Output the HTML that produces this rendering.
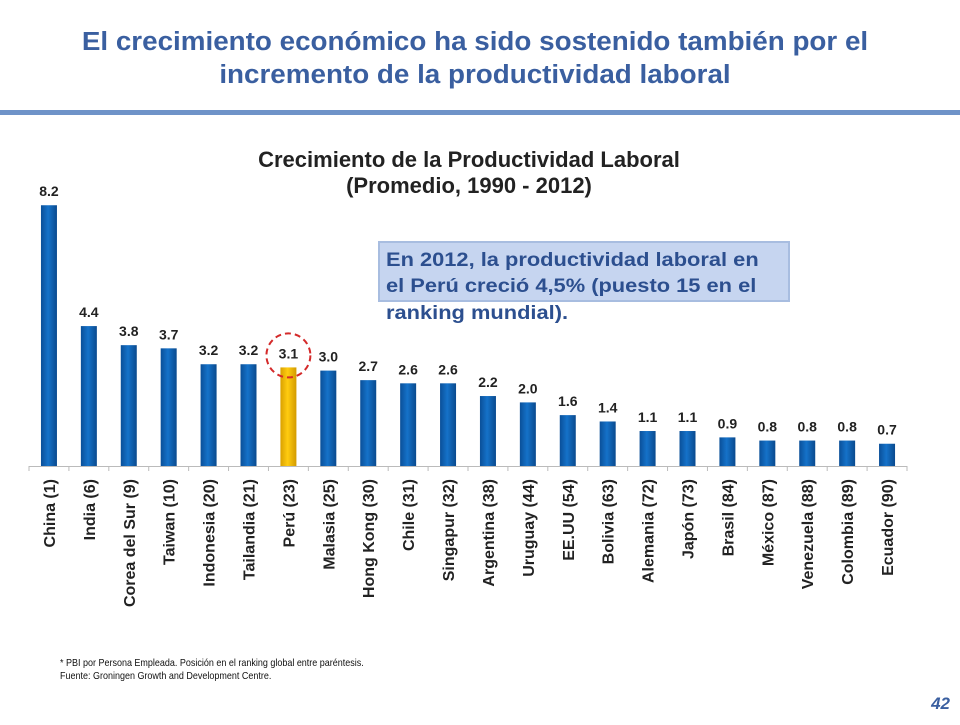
<!DOCTYPE html>
<html><head><meta charset="utf-8"><style>
body{margin:0;background:#fff;width:960px;height:720px;overflow:hidden;font-family:"Liberation Sans",sans-serif}
</style></head><body>
<svg id="chart" width="960" height="720" xmlns="http://www.w3.org/2000/svg" font-family="Liberation Sans, sans-serif">
<defs>
<linearGradient id="gb" x1="0" x2="1"><stop offset="0" stop-color="#0a4f98"/><stop offset="0.45" stop-color="#1572c9"/><stop offset="1" stop-color="#0a4a8e"/></linearGradient>
<linearGradient id="gy" x1="0" x2="1"><stop offset="0" stop-color="#d9a000"/><stop offset="0.45" stop-color="#ffcc10"/><stop offset="1" stop-color="#d29a00"/></linearGradient>
</defs>
<g fill="#3a5fa0" font-size="26" font-weight="bold" text-anchor="middle">
<text x="475" y="50" transform="translate(475 0) scale(1.07 1) translate(-475 0)">El crecimiento económico ha sido sostenido también por el</text>
<text x="475" y="83" transform="translate(475 0) scale(1.07 1) translate(-475 0)">incremento de la productividad laboral</text>
</g>
<rect x="0" y="110" width="960" height="5" fill="#6f93c8"/>
<g font-weight="bold" font-size="22" fill="#222" text-anchor="middle">
<text x="469" y="167">Crecimiento de la Productividad Laboral</text>
<text x="469" y="193">(Promedio, 1990 - 2012)</text>
</g>
<g>
<rect x="379" y="242" width="410" height="59" fill="#c6d5f0" stroke="#a8bde0" stroke-width="2"/>
<g fill="#2c4f8f" font-size="19" font-weight="bold" transform="translate(386 0) scale(1.15 1) translate(-386 0)">
<text x="386" y="266">En 2012, la productividad laboral en</text>
<text x="386" y="292">el Perú creció 4,5% (puesto 15 en el</text>
<text x="386" y="319">ranking mundial).</text>
</g>
</g>
<g id="plot"></g>
<g font-size="10" fill="#111">
<text x="60" y="666" transform="translate(60 0) scale(0.9 1) translate(-60 0)">* PBI por Persona Empleada. Posición en el ranking global entre paréntesis.</text>
<text x="60" y="679" transform="translate(60 0) scale(0.9 1) translate(-60 0)">Fuente: Groningen Growth and Development Centre.</text>
</g>
<text x="950" y="709" text-anchor="end" font-size="17" font-weight="bold" font-style="italic" fill="#3a5fa0">42</text>
</svg>
<script>
const categories=["China (1)","India (6)","Corea del Sur (9)","Taiwan (10)","Indonesia (20)","Tailandia (21)","Perú (23)","Malasia (25)","Hong Kong (30)","Chile (31)","Singapur (32)","Argentina (38)","Uruguay (44)","EE.UU (54)","Bolivia (63)","Alemania (72)","Japón (73)","Brasil (84)","México (87)","Venezuela (88)","Colombia (89)","Ecuador (90)"];
const values=[8.2,4.4,3.8,3.7,3.2,3.2,3.1,3.0,2.7,2.6,2.6,2.2,2.0,1.6,1.4,1.1,1.1,0.9,0.8,0.8,0.8,0.7];
const valueLabels=["8.2","4.4","3.8","3.7","3.2","3.2","3.1","3.0","2.7","2.6","2.6","2.2","2.0","1.6","1.4","1.1","1.1","0.9","0.8","0.8","0.8","0.7"];
const highlight="Perú (23)";
const NS="http://www.w3.org/2000/svg";
const x0=29,x1=907,base=466,k=31.8;
const step=(x1-x0)/categories.length;
const xc=i=>x0+step*(i+0.5);
const y=v=>base-v*k;
const g=document.getElementById('plot');
function mk(t,a){const e=document.createElementNS(NS,t);for(const n in a)e.setAttribute(n,a[n]);g.appendChild(e);return e;}
const ax=mk('line',{x1:x0,x2:x1,y1:base+0.5,y2:base+0.5,stroke:'#bbb','stroke-width':1});


for(let i=0;i<=categories.length;i++){
 const t=mk('line',{x1:x0+step*i,x2:x0+step*i,y1:base,y2:base+5,stroke:'#bbb'});
 
 
}
categories.forEach((c,i)=>{
 const hi=c===highlight;
 const b=mk('rect',{x:xc(i)-8,y:y(values[i]),width:16,height:values[i]*k,fill:hi?'url(#gy)':'url(#gb)'});
 
 
 const l=mk('text',{x:xc(i),y:y(values[i])-9,'text-anchor':'middle','font-size':14,'font-weight':'bold',fill:'#222'});
 l.textContent=valueLabels[i];
 
 
 const cl=mk('text',{transform:`translate(${xc(i)+6},479) rotate(-90)`,'text-anchor':'end','font-size':16,'font-weight':'bold',fill:'#222'});
 cl.textContent=c;
 
 
 if(hi){
  const ci=mk('circle',{cx:xc(i),cy:y(values[i])-12,r:22,fill:'none',stroke:'#d42a2a','stroke-width':2,'stroke-dasharray':'6 4'});
  
  
 }
});
</script>
</body></html>
